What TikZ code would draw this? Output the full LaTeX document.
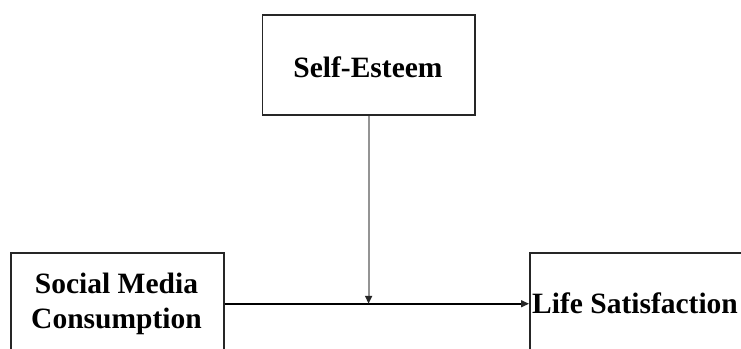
\documentclass[tikz,border=0pt]{standalone}
\usepackage{fontspec}
\setmainfont{Liberation Serif}
\usetikzlibrary{arrows.meta}
\begin{document}
\begin{tikzpicture}[x=1pt,y=-1pt,
  box/.style={draw=black!85,line width=1.5pt,minimum width=#1,inner sep=0pt,anchor=north west},
  lbl/.style={font=\bfseries\fontsize{29.5}{35}\selectfont,inner sep=0pt},
  tip/.style={-{Triangle[length=8pt,width=7pt,color=black!85]}},
  arr/.style={tip,line width=1.5pt,black}]
\useasboundingbox (0,0) rectangle (741,348);
\clip (0,0) rectangle (741,348);
\fill[white] (0,0) rectangle (741,348);
% boxes
\node[box=212.3pt,minimum height=100.3pt] (se) at (261.7,14) {};
\node[box=213pt,minimum height=102pt] (sm) at (10,252) {};
\node[box=225pt,minimum height=102pt] (ls) at (529,252) {};
% labels
\node[lbl,anchor=base] (tse) at (368,77) {Self-Esteem};
\node[lbl,anchor=base] (tsm1) at (116.5,293) {Social Media};
\node[lbl,anchor=base] (tsm2) at (116.5,328) {Consumption};
\node[lbl,anchor=base west] (tls) at (532,313) {Life Satisfaction};
% connectors
\draw[arr] (sm.east) -- (ls.west);
\draw[tip,line width=1.8pt,black!42] (se.south) -- (se.south |- sm.east);
\end{tikzpicture}
\end{document}
